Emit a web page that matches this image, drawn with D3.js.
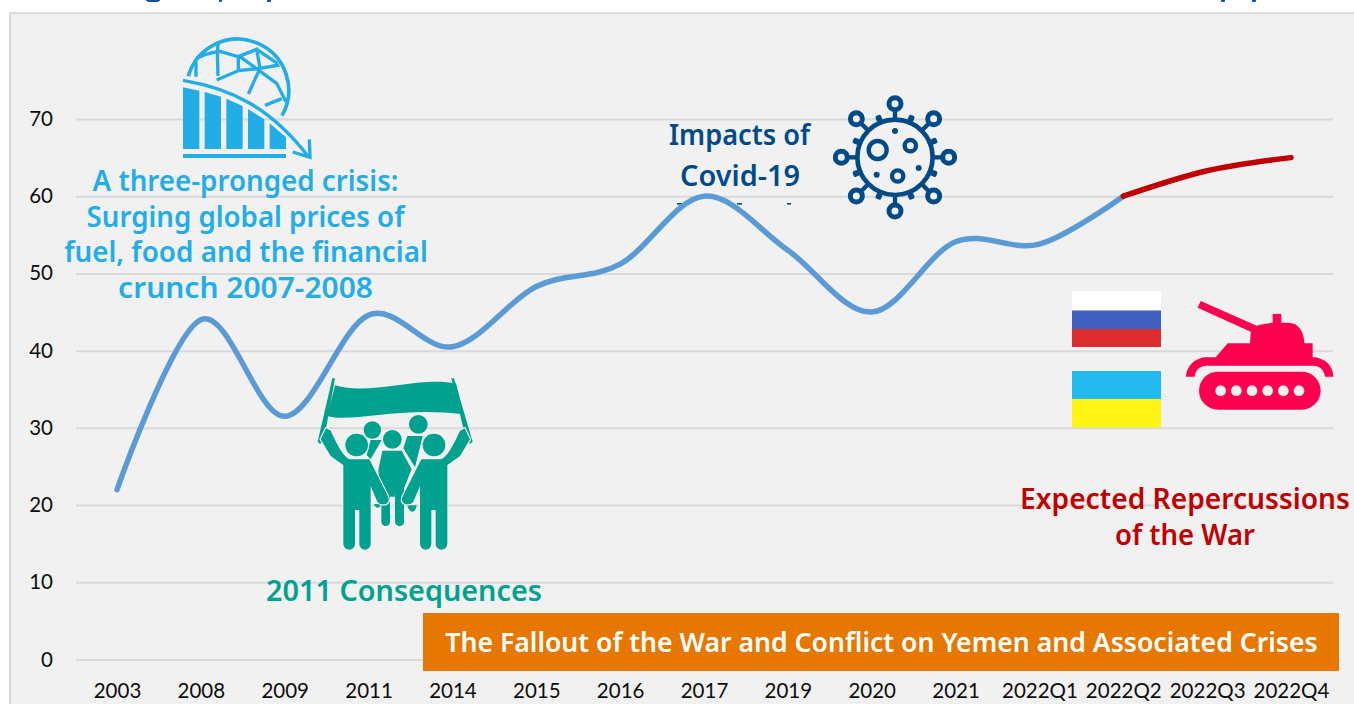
<!DOCTYPE html>
<html>
<head>
<meta charset="utf-8">
<script src="https://cdn.jsdelivr.net/npm/d3@7"></script>
<style>
  html, body { margin: 0; padding: 0; background: #fff; overflow: hidden; }
  svg { display: block; }
  .note { font-family: "Noto Sans", sans-serif; font-weight: 600; text-anchor: middle; }
  .tick text { font-family: Lato, sans-serif; font-size: 20.5px; fill: #0d0d0d; }
</style>
</head>
<body>
<svg id="chart" width="1354" height="704"></svg>
<script>
// Share of the population, by period
const periods = ["2003","2008","2009","2011","2014","2015","2016","2017","2019","2020","2021","2022Q1","2022Q2","2022Q3","2022Q4"];
const historical = [22, 44, 31.5, 44.6, 40.5, 48.3, 51.2, 60, 53, 45, 54.1, 53.8, 60];
const projected = [60, 63.3, 65];
const yTicks = [0, 10, 20, 30, 40, 50, 60, 70];

// Annotation text: [text, centre x, baseline y, fitted width]
const crisisLines = [
  ["A three-pronged crisis:", 245.5, 191, 306],
  ["Surging global prices of", 245.5, 227, 318],
  ["fuel, food and the financial", 246, 262, 364],
  ["crunch 2007-2008", 245.5, 298, 255]
];
const covidLines = [["Impacts of", 739.5, 145, 141], ["Covid-19", 740, 186, 120]];
const warLines = [["Expected Repercussions", 1185, 509, 330], ["of the War", 1185, 545, 140]];
const uprisingLines = [["2011 Consequences", 404, 601, 276]];
const fallout = "The Fallout of the War and Conflict on Yemen and Associated Crises";

const svg = d3.select("#chart");
const bg = "#f1f1f1";

// Panel
svg.append("rect").attr("x", 10).attr("y", 13).attr("width", 1360).attr("height", 710)
  .attr("fill", bg).attr("stroke", "#d9d9d9").attr("stroke-width", 2);

// Remnants of the heading and of the covid caption, cut by the panel layout
const scraps = svg.append("g").attr("fill", "#0b56a3");
[[146, -2, 14, 4, 5], [219, -2, 3, 4, 1], [267, -2, 4, 4, 1], [1221, -2, 4, 4, 1], [1252, -2, 4, 4, 1]].forEach(r =>
  scraps.append("rect").attr("x", r[0]).attr("y", r[1]).attr("width", r[2]).attr("height", r[3]).attr("rx", r[4]));
const covidScraps = svg.append("g").attr("fill", "#004b87");
[[677, 11], [737, 5], [787, 4]].forEach(r =>
  covidScraps.append("rect").attr("x", r[0]).attr("y", 203).attr("width", r[1]).attr("height", 1.6));

// Scales
const x = d3.scalePoint().domain(periods).range([117, 1291]);
const y = d3.scaleLinear().domain([0, 70]).range([659.5, 119]);

// Axes
const yAxis = d3.axisLeft(y).tickValues(yTicks).tickSize(-1257).tickPadding(23);
const gy = svg.append("g").attr("transform", "translate(76,0)").call(yAxis);
gy.select(".domain").remove();
gy.selectAll("line").attr("stroke", "#d9d9d9").attr("stroke-width", 2);

const xAxis = d3.axisBottom(x).tickSize(0).tickPadding(0);
const gx = svg.append("g").attr("transform", "translate(0,680)").call(xAxis);
gx.select(".domain").remove();
gx.selectAll("text").attr("dy", "0.71em").attr("y", 3);

// Series lines
const line = d3.line()
  .x(d => x(d.p))
  .y(d => y(d.v))
  .curve(d3.curveCardinal.tension(0));

const histData = historical.map((v, i) => ({ p: periods[i], v }));
const projData = projected.map((v, i) => ({ p: periods[i + 12], v }));
svg.append("path").datum(histData).attr("d", line).attr("fill", "none")
  .attr("stroke", "#5b9bd5").attr("stroke-width", 5.5).attr("stroke-linecap", "round");
svg.append("path").datum(projData).attr("d", line).attr("fill", "none")
  .attr("stroke", "#c00000").attr("stroke-width", 5.5).attr("stroke-linecap", "round");

// Annotation text, squeezed horizontally to its fitted width
function notes(lines, size, color) {
  svg.append("g").selectAll("text").data(lines).join("text")
    .attr("class", "note")
    .attr("font-size", size).attr("fill", color)
    .text(d => d[0])
    .attr("transform", function (d) {
      const k = d[3] / this.getComputedTextLength();
      return `translate(${d[1]},${d[2]}) scale(${k},1)`;
    });
}
notes(crisisLines, 29, "#22ade6");
notes(covidLines, 29, "#004b87");
notes(uprisingLines, 29, "#00a18f");
notes(warLines, 29, "#c00000");

// Banner along the bottom
svg.append("rect").attr("x", 423).attr("y", 613).attr("width", 916).attr("height", 58).attr("fill", "#e67700");
notes([[fallout, 881.5, 652, 873]], 27, "#ffffff");

// Icon groups are authored at triple scale
function icon(ox, oy) {
  return svg.append("g").attr("transform", `translate(${ox},${oy}) scale(${1 / 3})`);
}

// Globe with falling bars
const globe = icon(0, 0);
const blue = "#22ade6";
globe.append("path").attr("fill", "none").attr("stroke", blue).attr("stroke-width", 11)
  .attr("d", "M565,229 A153.5,153.5 0 1 1 846,347");
globe.append("path").attr("fill", "none").attr("stroke", blue).attr("stroke-width", 10)
  .attr("d", "M588,230 V185 M590,175 Q620,160 652,155 L655,125 M652,155 L654,228 M652,152 L715,170 V212 L650,240 M715,170 L770,148 L780,205 L715,212 M720,170 L830,250 L858,305 M780,205 L745,282 M780,205 L838,195 M770,148 L832,190 M795,316 L845,296");
globe.append("path").attr("fill", blue).attr("d",
  "M549,262 L598,272 V447 H549 Z M614,276 L663,290 V447 H614 Z M679,296 L728,318 V447 H679 Z M744,327 L793,358 V447 H744 Z M809,370 L858,412 V447 H809 Z M549,462 H858 V474 H549 Z");
globe.append("path").attr("fill", "none").attr("stroke", blue).attr("stroke-width", 10)
  .attr("d", "M549,241 C690,265 810,320 925,470");
globe.append("path").attr("fill", "none").attr("stroke", blue).attr("stroke-width", 10)
  .attr("d", "M928,418 L930,472 L878,456");

// Crowd holding a banner
const crowd = icon(300, 360);
const teal = "#00a18f";
crowd.append("path").attr("fill", teal).attr("d", "M82,168 C150,190 300,138 490,163 L468,70 C350,48 210,108 105,76 Z");
crowd.append("path").attr("fill", teal)
  .attr("d", "M97,55 H105 L72,240 L60,252 L53,245 Z M454,55 H462 L518,245 L510,252 L498,238 Z");
crowd.append("g").attr("fill", teal).selectAll("circle")
  .data([[217, 210, 26], [355, 193, 28], [277, 238, 28]]).join("circle")
  .attr("cx", d => d[0]).attr("cy", d => d[1]).attr("r", d => d[2]);
crowd.append("path").attr("fill", teal)
  .attr("d", "M212,240 H245 L212,298 L200,285 Z M322,228 H368 L345,322 L310,265 Z M222,432 H245 Q240,445 230,443 Q224,440 222,432 Z M322,436 H350 Q348,455 335,455 Q325,452 322,436 Z");
crowd.append("path").attr("fill", teal)
  .attr("d", "M247,272 H305 L335,328 L312,385 V485 A13,13 0 0 1 285,485 V410 H270 V485 A13,13 0 0 1 244,485 V410 L235,330 Z")
  .attr("stroke", bg).attr("stroke-width", 7).attr("paint-order", "stroke");
const person = "M78,205 L62,238 L92,288 L130,315 V552 A17,17 0 0 0 165,552 V450 H178 V552 A17,17 0 0 0 212,552 V378 L232,425 Q240,436 258,432 Q272,425 262,405 L208,298 H150 C130,292 112,255 92,212 Z";
[null, "translate(572,0) scale(-1,1)"].forEach(t => {
  crowd.append("path").attr("fill", teal).attr("stroke", bg).attr("stroke-width", 7)
    .attr("stroke-linejoin", "round").attr("paint-order", "stroke")
    .attr("d", person).attr("transform", t);
});
crowd.append("g").attr("fill", teal).attr("stroke", bg).attr("stroke-width", 7).attr("paint-order", "stroke").selectAll("circle")
  .data([[170, 255], [402, 255]]).join("circle")
  .attr("cx", d => d[0]).attr("cy", d => d[1]).attr("r", 34);

// Virus
const virus = icon(650, 80);
const navy = "#004b87";
const cx = 735, cy = 232;
virus.append("circle").attr("cx", cx).attr("cy", cy).attr("r", 113)
  .attr("fill", "none").attr("stroke", navy).attr("stroke-width", 14);
d3.range(8).forEach(i => {
  const a = i * Math.PI / 4;
  const ux = Math.sin(a), uy = -Math.cos(a);
  const far = i % 2 ? 164 : 161;
  virus.append("line")
    .attr("x1", cx + ux * 110).attr("y1", cy + uy * 110)
    .attr("x2", cx + ux * (far - 16)).attr("y2", cy + uy * (far - 16))
    .attr("stroke", navy).attr("stroke-width", 13);
  virus.append("circle")
    .attr("cx", cx + ux * far).attr("cy", cy + uy * far).attr("r", 18)
    .attr("fill", bg).attr("stroke", navy).attr("stroke-width", 15);
  // Short studs between the long spikes
  [a + Math.PI / 8.5, a + Math.PI / 4 - Math.PI / 8.5].forEach(b => {
    const sx = Math.sin(b), sy = -Math.cos(b);
    virus.append("line")
      .attr("x1", cx + sx * 112).attr("y1", cy + sy * 112)
      .attr("x2", cx + sx * 130).attr("y2", cy + sy * 130)
      .attr("stroke", navy).attr("stroke-width", 12).attr("stroke-linecap", "round");
  });
});
virus.append("g").attr("fill", "none").attr("stroke", navy).attr("stroke-width", 13).selectAll("circle")
  .data([[683, 210, 27], [781, 197, 17], [743, 288, 17]]).join("circle")
  .attr("cx", d => d[0]).attr("cy", d => d[1]).attr("r", d => d[2]);
virus.append("g").attr("fill", navy).selectAll("circle")
  .data([[735, 153], [680, 284], [806, 264]]).join("circle")
  .attr("cx", d => d[0]).attr("cy", d => d[1]).attr("r", 9);

// Flags
const flagStripes = [
  [291, 19.5, "#ffffff"], [310.5, 18.5, "#3f60bf"], [329, 18, "#dc2e2e"],
  [371, 28, "#22b9ee"], [399, 28.5, "#fff514"]
];
svg.append("g").selectAll("rect").data(flagStripes).join("rect")
  .attr("x", 1072).attr("width", 89)
  .attr("y", d => d[0]).attr("height", d => d[1]).attr("fill", d => d[2]);

// Tank
const tank = icon(1050, 270);
const red = "#ff0050";
tank.append("path").attr("fill", red)
  .attr("d", "M443,113 L452,93 L622,168 L612,190 Z");
tank.append("path").attr("fill", red)
  .attr("d", "M600,220 L602,188 L625,165 L668,158 V132 H694 V158 H715 C745,158 763,185 763,220 H788 V262 C820,262 850,285 850,320 H825 C822,300 810,287 790,287 H470 C450,287 436,300 434,320 H408 C410,285 440,262 470,262 H497 L533,220 Z");
tank.append("rect").attr("x", 447).attr("y", 305).attr("width", 365).attr("height", 114).attr("rx", 57).attr("fill", red);
tank.append("g").attr("fill", bg).selectAll("circle")
  .data([512, 559, 606, 653, 700, 747]).join("circle")
  .attr("cx", d => d).attr("cy", 362).attr("r", 16);
</script>
</body>
</html>
